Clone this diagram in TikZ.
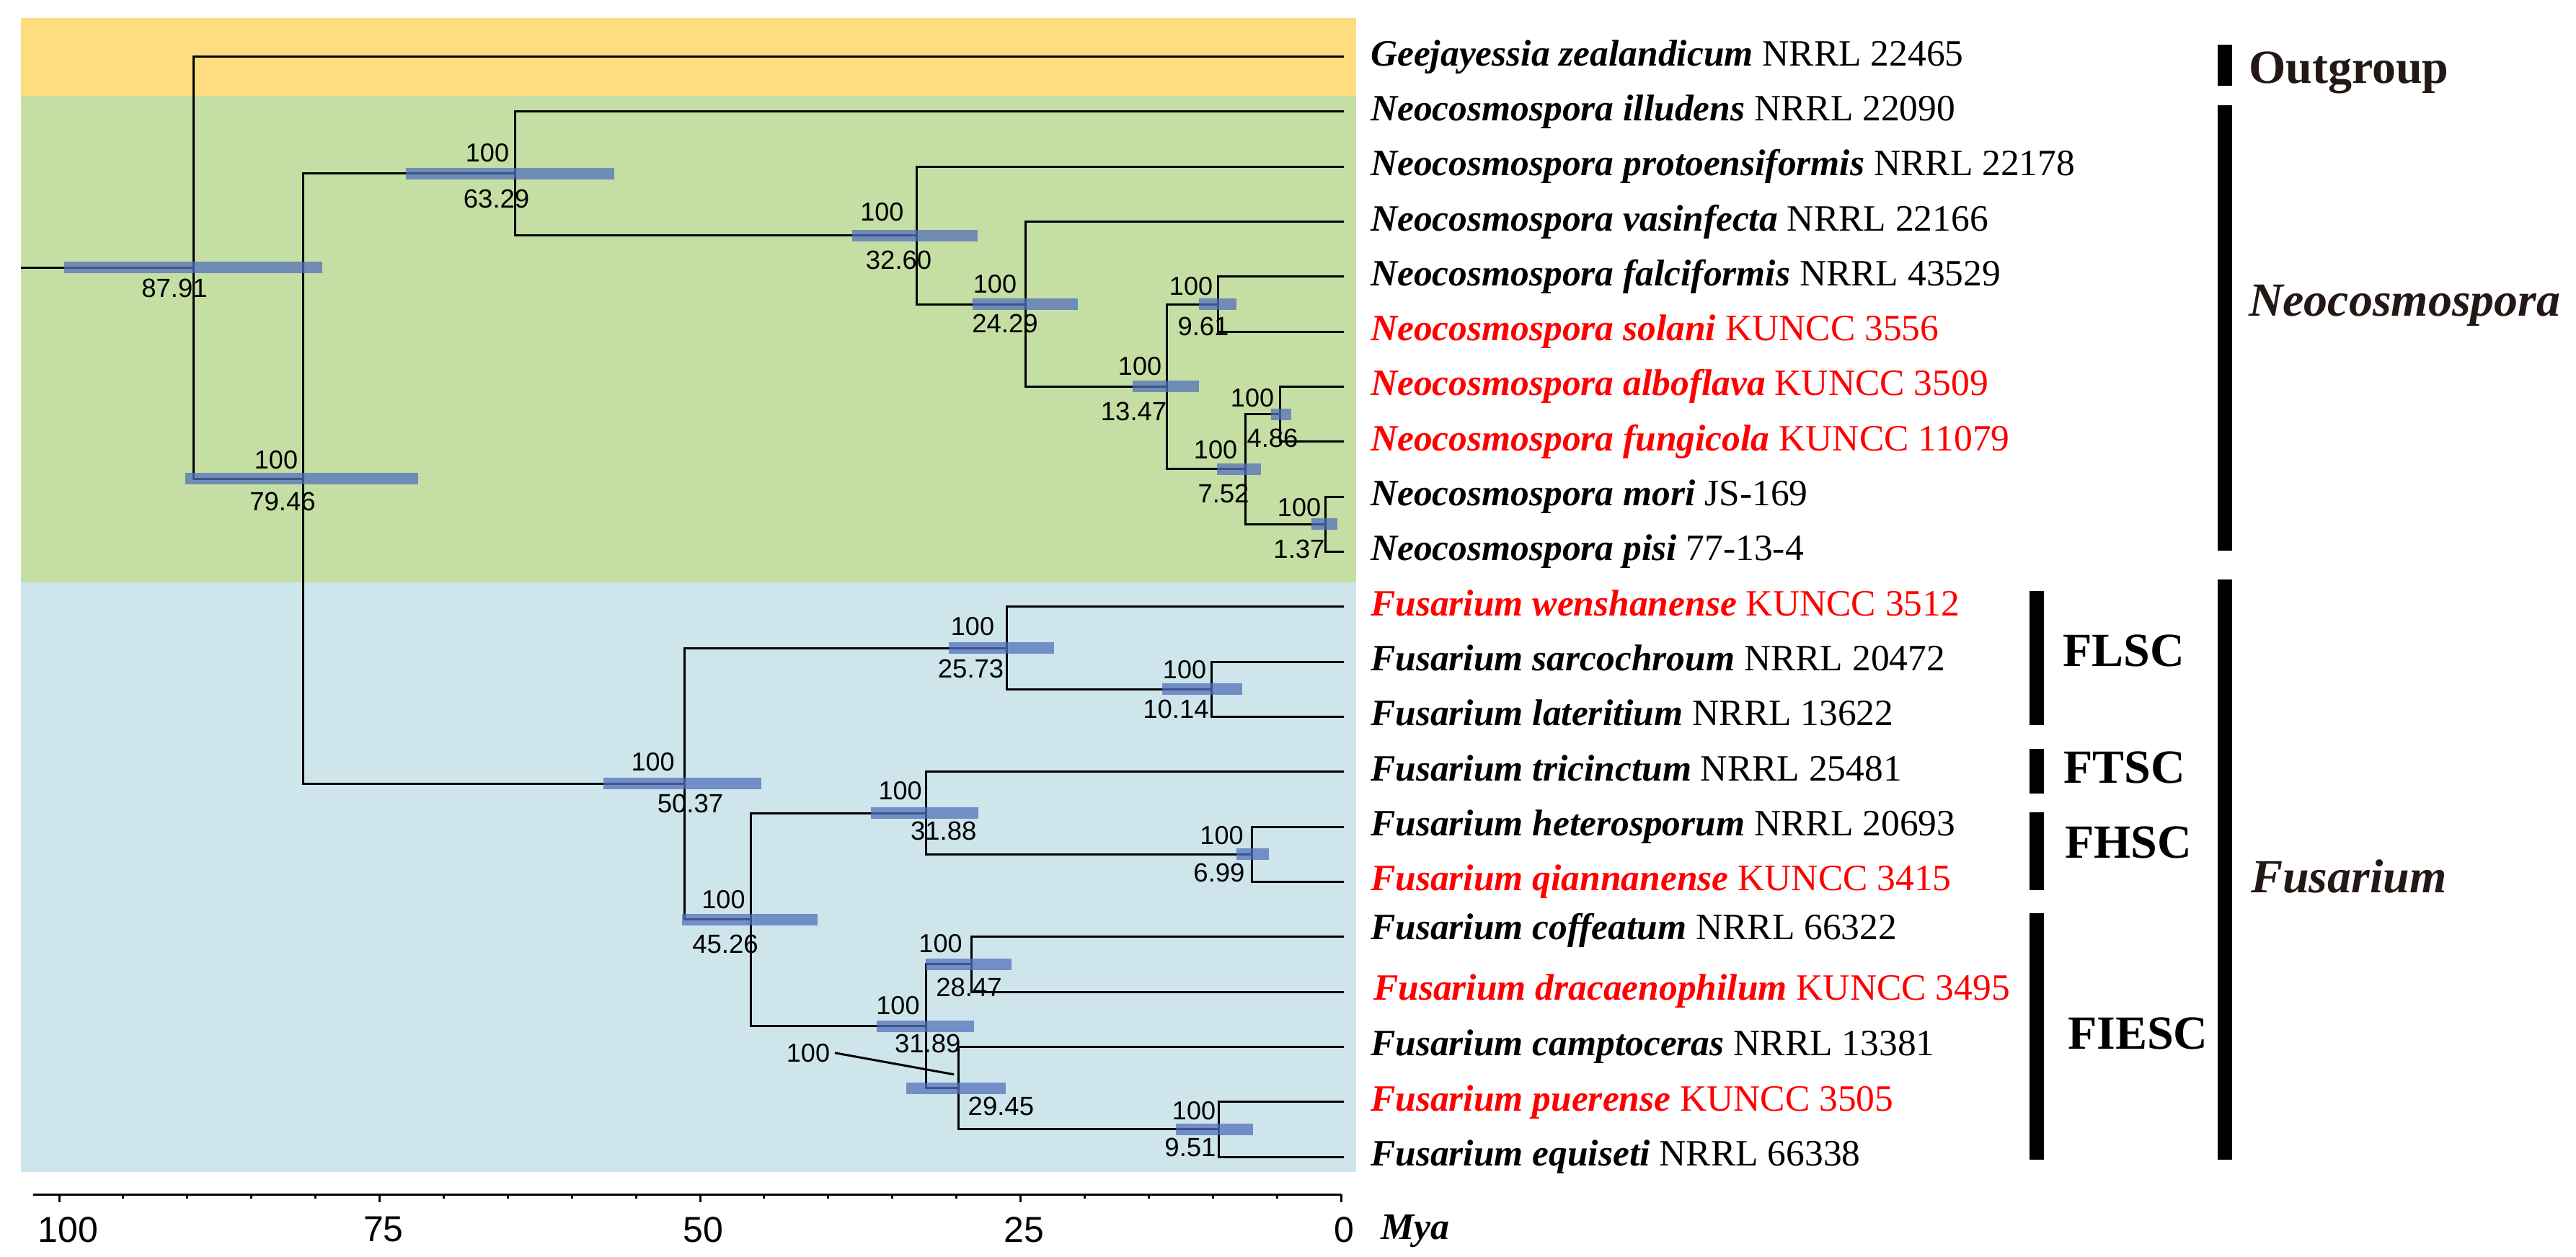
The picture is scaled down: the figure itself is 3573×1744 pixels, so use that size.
\documentclass[tikz,border=0pt]{standalone}
\usepackage{fontspec}
\setmainfont{Liberation Serif}
\newfontfamily\arialf{Liberation Sans}
\definecolor{bgyellow}{RGB}{253,221,125}
\definecolor{bggreen}{RGB}{196,222,164}
\definecolor{bgblue}{RGB}{205,229,235}
\definecolor{hpdblue}{RGB}{83,113,187}
\definecolor{cladetext}{RGB}{35,24,21}
\begin{document}
\begin{tikzpicture}[x=0.2pt,y=-0.2pt,
  br/.style={line width=0.6pt},
  hpd/.style={fill=hpdblue, fill opacity=0.75},
  leaf/.style={anchor=base west, inner sep=0pt, font=\fontsize{10.3}{12}\selectfont},
  newleaf/.style={leaf, text=red},
  bsval/.style={anchor=center, inner sep=0pt, font=\arialf\fontsize{7.2}{8}\selectfont},
  agelab/.style={anchor=center, inner sep=0pt, font=\arialf\fontsize{7.3}{8}\selectfont},
  cbar/.style={line width=4pt},
  clab/.style={anchor=base west, inner sep=0pt, text=cladetext, font=\bfseries\fontsize{13.2}{15}\selectfont},
  axisline/.style={line width=0.6pt},
  ticklab/.style={anchor=center, inner sep=0pt, font=\arialf\fontsize{10}{12}\selectfont}
]
\useasboundingbox (0,0) rectangle (3573,1744);
% backgrounds
\fill[bgyellow] (29,25) rectangle (1881,133);
\fill[bggreen] (29,133) rectangle (1881,808);
\fill[bgblue] (29,808) rectangle (1881,1626);

% leaf tips
\foreach \i/\y in {0/78.6,1/154.9,2/231.2,3/307.6,4/383.9,5/460.2,6/536.5,7/612.8,8/689.2,9/765.5,10/841.8,11/918.1,12/994.4,13/1070.8,14/1147.1,15/1223.4,16/1299.7,17/1376.0,18/1452.4,19/1528.7,20/1605.0}
  \coordinate (t\i) at (1864,\y);

% internal nodes
\coordinate (root) at (29,371.35);
\coordinate (n87) at (268,371.35);
\coordinate (n79) at (420,664.1);
\coordinate (n63) at (714.6,240.75);
\coordinate (n32) at (1271.6,326.6);
\coordinate (n24) at (1422.7,422.05);
\coordinate (n13) at (1618.5,536.5);
\coordinate (n961) at (1689,422.05);
\coordinate (n7) at (1727,651);
\coordinate (n4) at (1775.4,574.65);
\coordinate (n1) at (1838.5,727.35);
\coordinate (n50) at (949.5,1087.4);
\coordinate (n25) at (1396,899);
\coordinate (n10) at (1680,956.25);
\coordinate (n45) at (1041.3,1275.85);
\coordinate (n31a) at (1284.4,1128);
\coordinate (n6) at (1736,1185.25);
\coordinate (n31b) at (1284.4,1423.7);
\coordinate (n28) at (1347.6,1337.85);
\coordinate (n29) at (1329,1509.6);
\coordinate (n951) at (1690.7,1566.85);

% branches
\draw[br] (root) -- (n87);
\draw[br] (n87) |- (t0);   \draw[br] (n87) |- (n79);
\draw[br] (n79) |- (n63);  \draw[br] (n79) |- (n50);
\draw[br] (n63) |- (t1);   \draw[br] (n63) |- (n32);
\draw[br] (n32) |- (t2);   \draw[br] (n32) |- (n24);
\draw[br] (n24) |- (t3);   \draw[br] (n24) |- (n13);
\draw[br] (n13) |- (n961); \draw[br] (n13) |- (n7);
\draw[br] (n961) |- (t4);  \draw[br] (n961) |- (t5);
\draw[br] (n7) |- (n4);    \draw[br] (n7) |- (n1);
\draw[br] (n4) |- (t6);    \draw[br] (n4) |- (t7);
\draw[br] (n1) |- (t8);    \draw[br] (n1) |- (t9);
\draw[br] (n50) |- (n25);  \draw[br] (n50) |- (n45);
\draw[br] (n25) |- (t10);  \draw[br] (n25) |- (n10);
\draw[br] (n10) |- (t11);  \draw[br] (n10) |- (t12);
\draw[br] (n45) |- (n31a); \draw[br] (n45) |- (n31b);
\draw[br] (n31a) |- (t13); \draw[br] (n31a) |- (n6);
\draw[br] (n6) |- (t14);   \draw[br] (n6) |- (t15);
\draw[br] (n31b) |- (n28); \draw[br] (n31b) |- (n29);
\draw[br] (n28) |- (t16);  \draw[br] (n28) |- (t17);
\draw[br] (n29) |- (t18);  \draw[br] (n29) |- (n951);
\draw[br] (n951) |- (t19); \draw[br] (n951) |- (t20);

% HPD bars
\foreach \a/\b/\y in {89/447/371.35, 563/852/240.75, 257/580/664.1, 1182/1356/326.6,
  1349/1495/422.05, 1571/1663/536.5, 1663/1715/422.05, 1688/1749/651, 1763/1791/574.65,
  1819/1855/727.35, 837/1056/1087.4, 946/1134/1275.85, 1316/1462/899, 1612/1723/956.25,
  1208/1357/1128, 1715/1760/1185.25, 1284/1403/1337.85, 1216/1351/1423.7, 1257/1395/1509.6,
  1631/1738/1566.85}
  \fill[hpd] (\a,\y-8) rectangle (\b,\y+8);

% support values
\node[bsval] (s63) at (676,211.7) {100};
\node[bsval] (s79) at (383,637.8) {100};
\node[bsval] (s32) at (1223.4,294.6) {100};
\node[bsval] (s24) at (1380,394) {100};
\node[bsval] (s13) at (1581,508) {100};
\node[bsval] (s961) at (1652,396.7) {100};
\node[bsval] (s4) at (1737,552) {100};
\node[bsval] (s7) at (1686,624.5) {100};
\node[bsval] (s1) at (1802,704) {100};
\node[bsval] (s25) at (1349,868.9) {100};
\node[bsval] (s10) at (1643,929) {100};
\node[bsval] (s31a) at (1248.7,1097.2) {100};
\node[bsval] (s6) at (1694.5,1158.7) {100};
\node[bsval] (s28) at (1304.5,1309.6) {100};
\node[bsval] (s31b) at (1245.5,1395.2) {100};
\node[bsval] (s29) at (1121,1460.8) {100};
\node[bsval] (s951) at (1656,1541) {100};
\node[bsval] (s50) at (905.6,1057.2) {100};
\node[bsval] (s45) at (1003.5,1248) {100};
\coordinate (lead29) at (1323,1490.7);
\draw[br] ([xshift=1.2pt]s29.east) -- (lead29);

% ages
\node[agelab] (a87) at (242,400) {87.91};
\node[agelab] (a63) at (688.6,275.5) {63.29};
\node[agelab] (a79) at (392,696.4) {79.46};
\node[agelab] (a32) at (1246.6,361) {32.60};
\node[agelab] (a24) at (1394,449) {24.29};
\node[agelab] (a13) at (1572.6,571.4) {13.47};
\node[agelab] (a961) at (1669,452.8) {9.61};
\node[agelab] (a4) at (1765,608.4) {4.86};
\node[agelab] (a7) at (1697,685) {7.52};
\node[agelab] (a1) at (1802,761.5) {1.37};
\node[agelab] (a25) at (1346.6,927.9) {25.73};
\node[agelab] (a10) at (1631,984.3) {10.14};
\node[agelab] (a31a) at (1308.7,1153) {31.88};
\node[agelab] (a6) at (1691,1211.3) {6.99};
\node[agelab] (a28) at (1344,1369.8) {28.47};
\node[agelab] (a31b) at (1286.7,1447.5) {31.89};
\node[agelab] (a29) at (1388.4,1534.7) {29.45};
\node[agelab] (a951) at (1651,1592) {9.51};
\node[agelab] (a50) at (957.5,1115.3) {50.37};
\node[agelab] (a45) at (1006,1309.6) {45.26};

% leaf labels
\node[leaf] (l0) at (1900,91.1) {\textbf{\textit{Geejayessia zealandicum}} NRRL 22465};
\node[leaf] (l1) at (1900,167.4) {\textbf{\textit{Neocosmospora illudens}} NRRL 22090};
\node[leaf] (l2) at (1900,243.7) {\textbf{\textit{Neocosmospora protoensiformis}} NRRL 22178};
\node[leaf] (l3) at (1900,320.1) {\textbf{\textit{Neocosmospora vasinfecta}} NRRL 22166};
\node[leaf] (l4) at (1900,396.4) {\textbf{\textit{Neocosmospora falciformis}} NRRL 43529};
\node[newleaf] (l5) at (1900,472.7) {\textbf{\textit{Neocosmospora solani}} KUNCC 3556};
\node[newleaf] (l6) at (1900,549.0) {\textbf{\textit{Neocosmospora alboflava}} KUNCC 3509};
\node[newleaf] (l7) at (1900,625.3) {\textbf{\textit{Neocosmospora fungicola}} KUNCC 11079};
\node[leaf] (l8) at (1900,701.7) {\textbf{\textit{Neocosmospora mori}} JS-169};
\node[leaf] (l9) at (1900,778.0) {\textbf{\textit{Neocosmospora pisi}} 77-13-4};
\node[newleaf] (l10) at (1900,854.3) {\textbf{\textit{Fusarium wenshanense}} KUNCC 3512};
\node[leaf] (l11) at (1900,930.6) {\textbf{\textit{Fusarium sarcochroum}} NRRL 20472};
\node[leaf] (l12) at (1900,1006.9) {\textbf{\textit{Fusarium lateritium}} NRRL 13622};
\node[leaf] (l13) at (1900,1083.3) {\textbf{\textit{Fusarium tricinctum}} NRRL 25481};
\node[leaf] (l14) at (1900,1159.6) {\textbf{\textit{Fusarium heterosporum}} NRRL 20693};
\node[newleaf] (l15) at (1900,1235.9) {\textbf{\textit{Fusarium qiannanense}} KUNCC 3415};
\node[leaf] (l16) at (1900,1303.0) {\textbf{\textit{Fusarium coffeatum}} NRRL 66322};
\node[newleaf] (l17) at (1904,1387.0) {\textbf{\textit{Fusarium dracaenophilum}} KUNCC 3495};
\node[leaf] (l18) at (1900,1464.9) {\textbf{\textit{Fusarium camptoceras}} NRRL 13381};
\node[newleaf] (l19) at (1900,1541.2) {\textbf{\textit{Fusarium puerense}} KUNCC 3505};
\node[leaf] (l20) at (1900,1617.5) {\textbf{\textit{Fusarium equiseti}} NRRL 66338};

% clade bars
\coordinate (bOa) at (3086,62);   \coordinate (bOb) at (3086,119);
\coordinate (bNa) at (3086,146);  \coordinate (bNb) at (3086,764);
\coordinate (bFa) at (3086,804);  \coordinate (bFb) at (3086,1609);
\coordinate (bLa) at (2825,820);  \coordinate (bLb) at (2825,1006);
\coordinate (bTa) at (2825,1038.5); \coordinate (bTb) at (2825,1100.7);
\coordinate (bHa) at (2825,1127); \coordinate (bHb) at (2825,1235);
\coordinate (bIa) at (2825,1267); \coordinate (bIb) at (2825,1609);
\draw[cbar] (bOa) -- (bOb);
\draw[cbar] (bNa) -- (bNb);
\draw[cbar] (bFa) -- (bFb);
\draw[cbar] (bLa) -- (bLb);
\draw[cbar] (bTa) -- (bTb);
\draw[cbar] (bHa) -- (bHb);
\draw[cbar] (bIa) -- (bIb);

% clade labels
\node[clab] (cO) at (3118,116) {Outgroup};
\node[clab, font=\bfseries\itshape\fontsize{13.2}{15}\selectfont] (cN) at (3118,439) {Neocosmospora};
\node[clab, font=\bfseries\itshape\fontsize{13.2}{15}\selectfont] (cF) at (3121,1238) {Fusarium};
\node[clab, text=black] (cL) at (2860,924.4) {FLSC};
\node[clab, text=black] (cT) at (2861,1086) {FTSC};
\node[clab, text=black] (cH) at (2863,1190.7) {FHSC};
\node[clab, text=black] (cI) at (2867,1455) {FIESC};

% axis
\coordinate (ax0) at (46,1657);
\coordinate (ax1) at (1860,1657);
\draw[axisline] (ax0) -- (ax1);
\foreach \k in {0,...,20} {
  \pgfmathsetmacro{\tx}{1860-88.9*\k}
  \pgfmathtruncatemacro{\md}{mod(\k,5)}
  \ifnum\md=0
    \draw[axisline] (\tx,1657) -- (\tx,1668);
  \else
    \draw[axisline] (\tx,1657) -- (\tx,1663);
  \fi
}
\node[ticklab] (k100) at (94.5,1706) {100};
\node[ticklab] (k75) at (531.8,1706) {75};
\node[ticklab] (k50) at (975.5,1706) {50};
\node[ticklab] (k25) at (1420,1706) {25};
\node[ticklab] (k0) at (1864,1706) {0};
\node[anchor=base west, inner sep=0pt, font=\bfseries\itshape\fontsize{10.4}{12}\selectfont] (mya) at (1914,1719.6) {Mya};
\end{tikzpicture}
\end{document}
